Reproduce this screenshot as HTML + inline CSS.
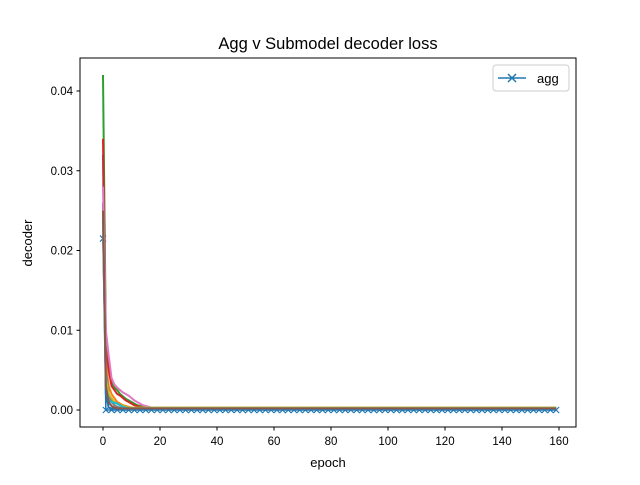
<!DOCTYPE html>
<html><head><meta charset="utf-8"><style>
body{margin:0;background:#fff}
svg{font-family:"Liberation Sans","DejaVu Sans",sans-serif}
</style></head><body>
<svg id="chart" width="640" height="480" viewBox="0 0 640 480">
<rect width="640" height="480" fill="#fff"/>
<text x="328" y="49" font-size="16.5" text-anchor="middle">Agg v Submodel decoder loss</text>
<g id="plot"></g>
<rect x="80" y="58" width="496" height="369" fill="none" stroke="#000" stroke-width="1"/>
<g id="xticks"></g><g id="yticks"></g>
<text x="328" y="467" font-size="13" text-anchor="middle">epoch</text>
<text transform="translate(32,243) rotate(-90)" font-size="13" text-anchor="middle">decoder</text>
<g>
<rect x="493" y="65" width="76" height="26" rx="3" fill="#fff" stroke="#ccc"/>
<line x1="498" y1="78" x2="526" y2="78" stroke="#1f77b4" stroke-width="1.5"/>
<path d="M508,74 l8,8 M516,74 l-8,8" stroke="#1f77b4" stroke-width="1.5"/>
<text x="537" y="83" font-size="13">agg</text>
</g>
</svg>
<script>
const xTicks=[0,20,40,60,80,100,120,140,160];
const yTicks=[0,0.01,0.02,0.03,0.04];
const yTickLabels=["0.00","0.01","0.02","0.03","0.04"];
const nEpochs=160;
const aggFirstEpoch=0;
const aggStep=2;
const aggHead=[0.0215,0.0];
const aggTail=0.0;
const colors=["#1f77b4","#ff7f0e","#2ca02c","#d62728","#9467bd","#e377c2","#7f7f7f","#bcbd22","#17becf","#8c564b"];
const subBlue=[0.032,0.002,0.0003,0.0002];
const subOrange=[0.026,0.006,0.003,0.002,0.0015,0.001,0.0008,0.0006,0.0005,0.0004,0.0003];
const subGreen=[0.042,0.009,0.006,0.0035,0.0028,0.0025,0.002,0.0017,0.0014,0.0012,0.001,0.0008,0.0006,0.0005,0.0004,0.0003];
const subRed=[0.034,0.008,0.005,0.003,0.0025,0.002,0.0018,0.0015,0.0012,0.001,0.0008,0.0006,0.0005,0.0004,0.0003];
const subPurple=[0.026,0.004,0.002,0.0012,0.001,0.0008,0.0006,0.0004,0.0003];
const subPink=[0.028,0.01,0.0068,0.004,0.0032,0.0028,0.0025,0.0022,0.002,0.0018,0.0015,0.0012,0.001,0.0008,0.0006,0.0005,0.0004,0.0003];
const subGray=[0.022,0.005,0.002,0.001,0.0006,0.0004,0.0003];
const subOlive=[0.024,0.004,0.002,0.0015,0.001,0.0008,0.0006,0.0005,0.0004,0.0003];
const subCyan=[0.024,0.003,0.0012,0.001,0.0009,0.0008,0.0006,0.0004,0.0003];
const subBrown=[0.025,0.003,0.001,0.0005,0.0003,0.0002];
const subTails=[0.0002,0.0002,0.0003,0.0002,0.0002,0.0003,0.0002,0.0003,0.0002,0.0002];
const subs=[subBlue,subOrange,subGreen,subRed,subPurple,subPink,subGray,subOlive,subCyan,subBrown];

const NS="http://www.w3.org/2000/svg";
const X=v=>103+(v/160)*456;
const Y=v=>410-(v/0.04)*319;
const plot=document.getElementById('plot');
function series(head,tail,n){const o=[];for(let i=0;i<n;i++)o.push(i<head.length?head[i]:tail);return o;}
function line(xs,vals,color,name,w){
  const p=document.createElementNS(NS,'polyline');
  p.setAttribute('points',vals.map((v,i)=>X(xs[i])+','+Y(v)).join(' '));
  p.setAttribute('fill','none');p.setAttribute('stroke',color);p.setAttribute('stroke-width',w);
  p.setAttribute('stroke-linejoin','round');
  
  
  plot.appendChild(p);
}
// agg epochs: first at 0, then odd epochs every aggStep
const aggX=[aggFirstEpoch];
for(let e=1;e<nEpochs;e+=aggStep)aggX.push(e);
const agg=series(aggHead,aggTail,aggX.length);
line(aggX,agg,"#1f77b4","agg-line",1.5);
agg.forEach((v,i)=>{
  const m=document.createElementNS(NS,'path');
  const x=X(aggX[i]),y=Y(v);
  m.setAttribute('d',`M${x-3},${y-3}L${x+3},${y+3}M${x+3},${y-3}L${x-3},${y+3}`);
  m.setAttribute('stroke','#1f77b4');m.setAttribute('stroke-width','1.2');
  
  
  plot.appendChild(m);
});
const epochs=[];for(let i=0;i<nEpochs;i++)epochs.push(i);
subs.forEach((s,k)=>line(epochs,series(s,subTails[k],nEpochs),colors[k],"submodel-line-"+k,2));
const xt=document.getElementById('xticks');
xTicks.forEach(t=>{
  const l=document.createElementNS(NS,'line');
  l.setAttribute('x1',X(t));l.setAttribute('x2',X(t));l.setAttribute('y1',427);l.setAttribute('y2',430.5);l.setAttribute('stroke','#000');
  
  
  xt.appendChild(l);
  const tx=document.createElementNS(NS,'text');
  tx.setAttribute('x',X(t));tx.setAttribute('y',445);tx.setAttribute('font-size','11.5');tx.setAttribute('text-anchor','middle');
  tx.textContent=t;
  
  
  xt.appendChild(tx);
});
const yt=document.getElementById('yticks');
yTicks.forEach((t,i)=>{
  const l=document.createElementNS(NS,'line');
  l.setAttribute('x1',76.5);l.setAttribute('x2',80);l.setAttribute('y1',Y(t));l.setAttribute('y2',Y(t));l.setAttribute('stroke','#000');
  
  
  yt.appendChild(l);
  const tx=document.createElementNS(NS,'text');
  tx.setAttribute('x',73);tx.setAttribute('y',Y(t)+4);tx.setAttribute('font-size','11.5');tx.setAttribute('text-anchor','end');
  tx.textContent=yTickLabels[i];
  
  
  yt.appendChild(tx);
});
</script>
</body></html>
